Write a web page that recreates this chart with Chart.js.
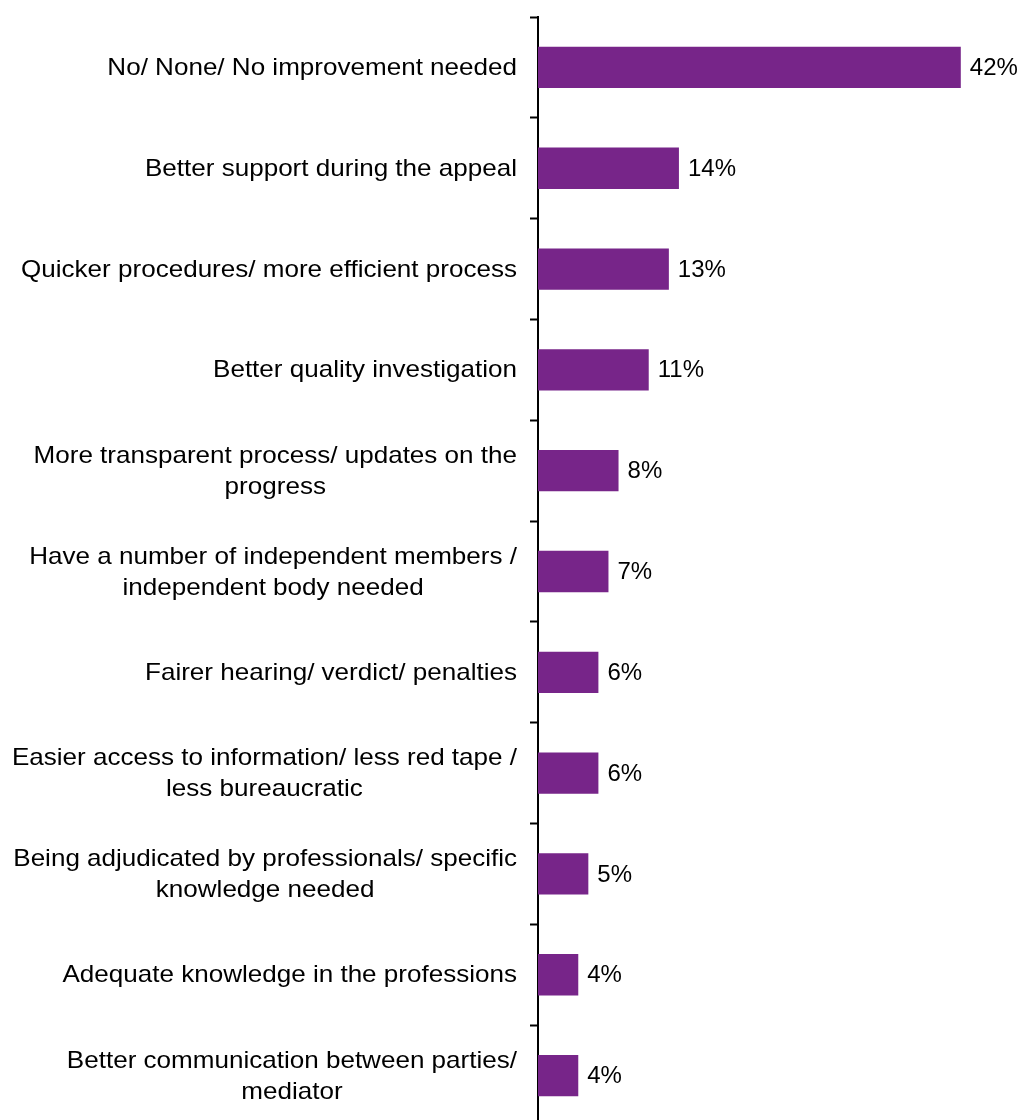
<!DOCTYPE html>
<html>
<head>
<meta charset="utf-8">
<script src="https://cdn.jsdelivr.net/npm/chart.js@4"></script>
<style>
html,body{margin:0;padding:0;background:#fff;overflow:hidden;}
#wrap{width:1032px;height:1130px;position:relative;}
</style>
</head>
<body>
<div id="wrap"><canvas id="c"></canvas></div>
<script>
const categories = [
  ["No/ None/ No improvement needed"],
  ["Better support during the appeal"],
  ["Quicker procedures/ more efficient process"],
  ["Better quality investigation"],
  ["More transparent process/ updates on the", "progress"],
  ["Have a number of independent members /", "independent body needed"],
  ["Fairer hearing/ verdict/ penalties"],
  ["Easier access to information/ less red tape /", "less bureaucratic"],
  ["Being adjudicated by professionals/ specific", "knowledge needed"],
  ["Adequate knowledge in the professions"],
  ["Better communication between parties/", "mediator"]
];
const values = [42, 14, 13, 11, 8, 7, 6, 6, 5, 4, 4];
const valueLabels = values.map(v => v + '%');

const FONT = '"Liberation Sans", Arial, sans-serif';
const AXIS_X = 538;

const labelPlugin = {
  id: 'labels',
  afterDraw(chart) {
    const ctx = chart.ctx;
    const ys = chart.scales.y;
    ctx.save();
    ctx.fillStyle = '#000';
    ctx.textBaseline = 'middle';
    // category labels, slightly wide face
    const sx = 1.085;
    ctx.font = '24px ' + FONT;
    ctx.textAlign = 'center';
    const right = AXIS_X - 21;
    const lh = 31;
    categories.forEach((lines, i) => {
      const y = ys.getPixelForTick(i) + 1;
      const w = Math.max(...lines.map(l => ctx.measureText(l).width)) * sx;
      const cx = right - w / 2;
      const y0 = y - (lines.length - 1) * lh / 2;
      lines.forEach((l, k) => {
        ctx.save();
        ctx.translate(cx, y0 + k * lh);
        ctx.scale(sx, 1);
        ctx.fillText(l, 0, 0);
        ctx.restore();
      });
    });
    // value labels
    const meta = chart.getDatasetMeta(0);
    ctx.font = '24px ' + FONT;
    ctx.textAlign = 'left';
    meta.data.forEach((bar, i) => {
      ctx.fillText(valueLabels[i], bar.x + 9, bar.y + 1);
    });
    ctx.restore();
  }
};

new Chart(document.getElementById('c'), {
  type: 'bar',
  data: {
    labels: categories,
    datasets: [{
      data: values,
      backgroundColor: '#772589',
      borderWidth: 0,
      barPercentage: 0.41,
      categoryPercentage: 1
    }]
  },
  options: {
    indexAxis: 'y',
    responsive: true,
    maintainAspectRatio: false,
    devicePixelRatio: 1,
    animation: false,
    layout: { padding: { top: 17, bottom: 4, left: 0, right: 41 } },
    plugins: { legend: { display: false }, tooltip: { enabled: false } },
    scales: {
      x: { display: false, min: 0, max: 45 },
      y: {
        afterFit(scale) { scale.width = AXIS_X; },
        ticks: { display: false },
        grid: {
          offset: true,
          drawOnChartArea: false,
          drawTicks: true,
          tickLength: 8,
          tickWidth: 2,
          tickColor: '#000',
          color: '#000'
        },
        border: { display: true, color: '#000', width: 2 }
      }
    }
  },
  plugins: [labelPlugin]
});
</script>
</body>
</html>
